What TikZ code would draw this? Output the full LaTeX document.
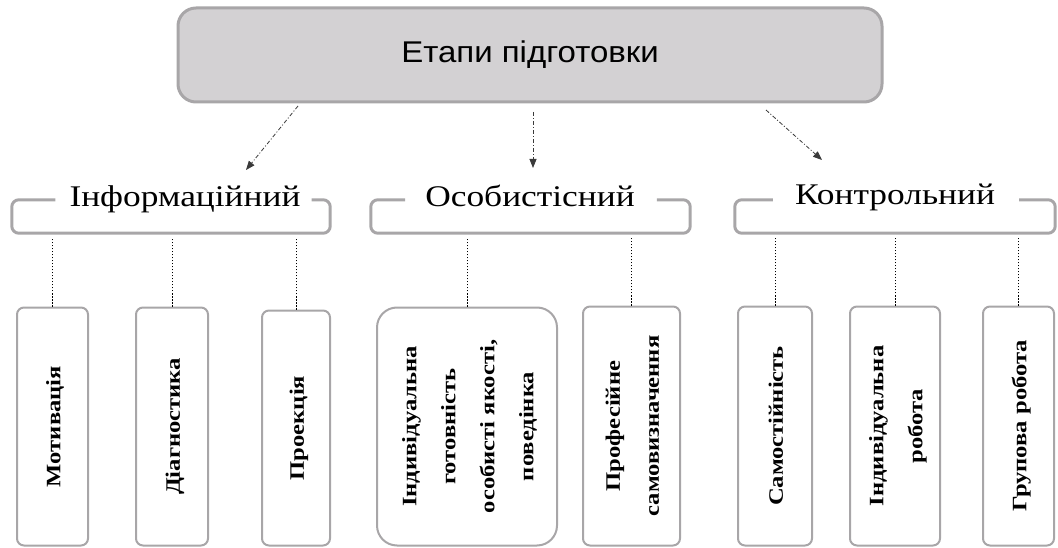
\documentclass[tikz,border=0pt]{standalone}
\usepackage{fontspec}
\setmainfont{Liberation Serif}
\newfontfamily\sansf{Liberation Sans}
\usetikzlibrary{arrows.meta,calc}
\definecolor{frameg}{HTML}{A8A6A8}
\definecolor{topfill}{HTML}{D3D1D3}
\definecolor{arrg}{HTML}{3A3A3A}
\newcommand\vtext[1]{\rotatebox{90}{\scalebox{1.2}[1]{\fontsize{20.5}{39}\selectfont\bfseries\begin{tabular}{@{}c@{}}#1\end{tabular}}}}
\begin{document}
\begin{tikzpicture}[x=1pt,y=-1pt,
  topbox/.style={draw=frameg, fill=topfill, line width=3pt, rounded corners=18pt, inner sep=0pt},
  hdr/.style={inner sep=0pt, anchor=base, font=\fontsize{30}{32}\selectfont},
  gframe/.style={inner sep=0pt, minimum height=33pt},
  hline/.style={draw=frameg, line width=3pt, rounded corners=7pt},
  vbox/.style={draw=frameg, line width=2pt, rounded corners=7pt, inner sep=0pt, minimum height=238pt},
  arr/.style={arrg, line width=0.8pt, dash pattern=on 4pt off 2pt on 1pt off 2pt, -{Triangle[length=9pt,width=7pt]}},
  conn/.style={black, line width=0.6pt, dash pattern=on 1.5pt off 1.5pt}]
\useasboundingbox (0,0) rectangle (1058,548);

% top box
\node[topbox, minimum width=704pt, minimum height=94pt] (top) at (530,55)
  {\sansf\fontsize{30}{32}\selectfont\scalebox{1.1}[1]{Етапи підготовки}};

% group headers
\node[gframe, minimum width=318pt] (g1) at (171,216.5) {};
\node[gframe, minimum width=319pt] (g2) at (530.5,216.5) {};
\node[gframe, minimum width=320pt] (g3) at (895,216.5) {};
\node[hdr] (h1) at (185,207) {\scalebox{1.18}[1]{Інформаційний}};
\node[hdr] (h2) at (530,207) {\scalebox{1.18}[1]{Особистісний}};
\node[hdr] (h3) at (895,205) {\scalebox{1.18}[1]{Контрольний}};

\draw[hline] ([xshift=-14pt]h1.west |- g1.north) -- (g1.north west) -- (g1.south west) -- (g1.south east) -- (g1.north east) -- ([xshift=11pt]h1.east |- g1.north);
\draw[hline] ([xshift=-20pt]h2.west |- g2.north) -- (g2.north west) -- (g2.south west) -- (g2.south east) -- (g2.north east) -- ([xshift=22pt]h2.east |- g2.north);
\draw[hline] ([xshift=-22pt]h3.west |- g3.north) -- (g3.north west) -- (g3.south west) -- (g3.south east) -- (g3.north east) -- ([xshift=24pt]h3.east |- g3.north);

% arrows
\coordinate (s1) at (298,106); \coordinate (e1) at (246,170);
\coordinate (s2) at (533,112); \coordinate (e2) at (533,168);
\coordinate (s3) at (766,110); \coordinate (e3) at (822,160);
\draw[arr] (s1) -- (e1);
\draw[arr] (s2) -- (e2);
\draw[arr] (s3) -- (e3);

% bottom boxes
\node[vbox, minimum width=71pt] (b1) at (52.5,426.5) {\vtext{Мотивація}};
\node[vbox, minimum width=72pt] (b2) at (172,426.5) {\vtext{Діагностика}};
\node[vbox, minimum width=68pt, minimum height=235pt] (b3) at (296,428) {\vtext{Проекція}};
\node[vbox, minimum width=180pt, rounded corners=20pt] (b4) at (467,426.5) {\vtext{Індивідуальна\\готовність\\особисті якості,\\поведінка}};
\node[vbox, minimum width=97pt, minimum height=239pt] (b5) at (631.5,426) {\vtext{Професійне\\самовизначення}};
\node[vbox, minimum width=74pt, minimum height=239pt] (b6) at (775,426) {\vtext{Самостійність}};
\node[vbox, minimum width=90pt, minimum height=239pt] (b7) at (895,426) {\vtext{Індивідуальна\\робота}};
\node[vbox, minimum width=71pt, minimum height=239pt] (b8) at (1018.5,426) {\vtext{Групова робота}};

% dotted connectors
\foreach \b/\g in {b1/g1,b2/g1,b3/g1,b4/g2,b5/g2,b6/g3,b7/g3,b8/g3}
  \draw[conn] (\b.north) -- ([yshift=-5pt]\b.north |- \g.south);
\end{tikzpicture}
\end{document}
